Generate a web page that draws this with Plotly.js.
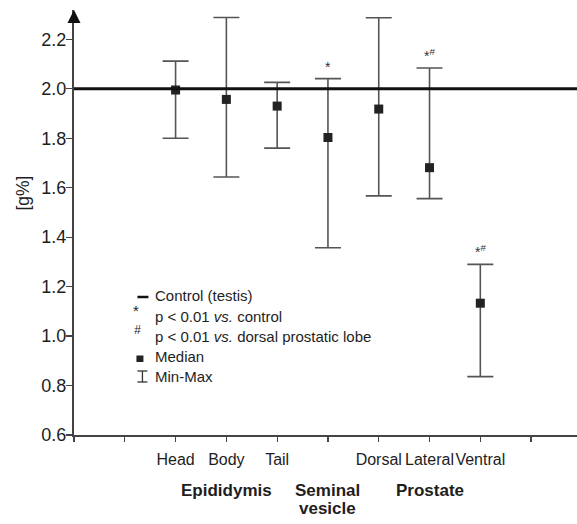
<!DOCTYPE html>
<html>
<head>
<meta charset="utf-8">
<script src="https://cdn.plot.ly/plotly-3.0.1.min.js"></script>
<style>html,body{margin:0;padding:0;background:#fff}#chart{width:577px;height:524px}</style>
</head>
<body>
<div id="chart"></div>
<script>
// ---- data ----
var categories = ["Head", "Body", "Tail", "Seminal vesicle", "Dorsal", "Lateral", "Ventral"];
var tickLabels = ["Head", "Body", "Tail", "", "Dorsal", "Lateral", "Ventral"];
var medianValues = [1.995, 1.957, 1.930, 1.803, 1.918, 1.681, 1.133];
var minValues = [1.800, 1.643, 1.760, 1.357, 1.567, 1.556, 0.836];
var maxValues = [2.112, 2.288, 2.026, 2.041, 2.287, 2.084, 1.290];
var significance = ["", "", "", "*", "", "*<sup>#</sup>", "*<sup>#</sup>"];
var controlValue = 2.0;
var groupLabels = ["Epididymis", "Seminal<br>vesicle", "Prostate"];
var groupCenters = [3, 5, 7];
var yTicks = [0.6, 0.8, 1.0, 1.2, 1.4, 1.6, 1.8, 2.0, 2.2];

// ---- layout helpers ----
var L = 73.5, T = 10, W = 577 - L, H = 435 - T;
function PX(px) { return (px - L) / W; }
function PY(py) { return (T + H - py) / H; }
var FONT = "'Liberation Sans', Arial, Helvetica, sans-serif";
var TXT = "#1e1e1e";

var xpos = categories.map(function (c, i) { return i + 2; });
var plus = medianValues.map(function (m, i) { return maxValues[i] - m; });
var minus = medianValues.map(function (m, i) { return m - minValues[i]; });

var trace = {
  type: "scatter", mode: "markers", x: xpos, y: medianValues,
  text: categories, hoverinfo: "text+y",
  marker: { symbol: "square", size: 9, color: "#222" },
  error_y: { type: "data", symmetric: false, array: plus, arrayminus: minus,
             color: "#555", thickness: 1.6, width: 13 },
  cliponaxis: false, showlegend: false
};

var tickvals = [], ticktext = [];
xpos.forEach(function (x, i) {
  if (tickLabels[i]) { tickvals.push(x); ticktext.push(tickLabels[i]); }
});

var annotations = [];
// significance marks
xpos.forEach(function (x, i) {
  if (significance[i]) annotations.push({
    x: x, y: maxValues[i], xref: "x", yref: "y", text: significance[i],
    showarrow: false, yanchor: "bottom", yshift: 2,
    font: { family: FONT, size: 14, color: "#333" }
  });
});
// group labels (one annotation per line)
groupLabels.forEach(function (g, i) {
  g.split("<br>").forEach(function (line, j) {
    annotations.push({
      x: groupCenters[i], y: PY(490 + 18 * j), xref: "x", yref: "paper", text: "<b>" + line + "</b>",
      showarrow: false, yanchor: "middle", align: "center",
      font: { family: FONT, size: 17, color: TXT }
    });
  });
});
// y title
annotations.push({
  x: PX(22), y: PY(193), xref: "paper", yref: "paper", text: "[g%]",
  textangle: -90, showarrow: false, xanchor: "center", yanchor: "middle",
  font: { family: FONT, size: 17.5, color: TXT }
});
// legend texts
var legendRows = [
  ["Control (testis)", 295],
  ["p < 0.01 <i>vs.</i> control", 316],
  ["p < 0.01 <i>vs.</i> dorsal prostatic lobe", 336],
  ["Median", 356],
  ["Min-Max", 376]
];
legendRows.forEach(function (r) {
  annotations.push({
    x: PX(153), y: PY(r[1]), xref: "paper", yref: "paper", text: r[0],
    showarrow: false, xanchor: "left", yanchor: "middle", align: "left",
    font: { family: FONT, size: 15, color: TXT }
  });
});
annotations.push({ x: PX(136), y: PY(310), xref: "paper", yref: "paper", text: "*",
  showarrow: false, xanchor: "center", yanchor: "middle", font: { family: FONT, size: 15, color: TXT } });
annotations.push({ x: PX(137), y: PY(330), xref: "paper", yref: "paper", text: "<i>#</i>",
  showarrow: false, xanchor: "center", yanchor: "middle", font: { family: FONT, size: 12, color: TXT } });

var shapes = [
  // control line
  { type: "line", xref: "paper", x0: 0, x1: 1, yref: "y", y0: controlValue, y1: controlValue,
    line: { color: "#111", width: 3 } },
  // arrow head on y axis
  { type: "path", xref: "paper", yref: "paper", xsizemode: "pixel", ysizemode: "pixel",
    xanchor: 0, yanchor: 1, path: "M -6.5 -13 L 6.5 -13 L 0 0 Z",
    fillcolor: "#111", line: { width: 0 } },
  // legend symbols
  { type: "line", xref: "paper", yref: "paper", x0: PX(137), x1: PX(148), y0: PY(297), y1: PY(297),
    line: { color: "#111", width: 2.5 } },
  { type: "rect", xref: "paper", yref: "paper", x0: PX(136), x1: PX(143), y0: PY(355.5), y1: PY(362),
    fillcolor: "#222", line: { width: 0 } },
  { type: "line", xref: "paper", yref: "paper", x0: PX(142), x1: PX(142), y0: PY(371), y1: PY(382),
    line: { color: "#333", width: 1.3 } },
  { type: "line", xref: "paper", yref: "paper", x0: PX(137), x1: PX(147), y0: PY(371), y1: PY(371),
    line: { color: "#333", width: 1.3 } },
  { type: "line", xref: "paper", yref: "paper", x0: PX(137), x1: PX(147), y0: PY(382), y1: PY(382),
    line: { color: "#333", width: 1.3 } }
];

var layout = {
  width: 577, height: 524,
  margin: { l: L, r: 0, t: T, b: 524 - 435, pad: 0 },
  paper_bgcolor: "#fff", plot_bgcolor: "#fff",
  font: { family: FONT, color: TXT },
  xaxis: {
    range: [0, W / 50.84], tickmode: "array", tickvals: tickvals, ticktext: ticktext,
    tickangle: 0,
    showgrid: false, zeroline: false, showline: true, linecolor: "#444", linewidth: 2,
    ticks: "outside", ticklen: 5, tickwidth: 1.3, tickcolor: "#444",
    minor: { tick0: 0, dtick: 1, ticks: "outside", ticklen: 5, tickwidth: 1.3, tickcolor: "#444", showgrid: false },
    tickfont: { family: FONT, size: 16, color: TXT }, ticklabelstandoff: 4, fixedrange: true
  },
  yaxis: {
    range: [0.6, 0.6 + H / 247.3], tickmode: "array", tickvals: yTicks,
    ticktext: yTicks.map(function (v) { return v.toFixed(1); }),
    showgrid: false, zeroline: false, showline: true, linecolor: "#444", linewidth: 2,
    ticks: "outside", ticklen: 6, tickwidth: 1.3, tickcolor: "#444",
    tickfont: { family: FONT, size: 18, color: TXT }, ticklabelstandoff: -4, fixedrange: true
  },
  annotations: annotations,
  shapes: shapes,
  showlegend: false
};

Plotly.newPlot("chart", [trace], layout, { displayModeBar: false, staticPlot: true });
</script>
</body>
</html>
